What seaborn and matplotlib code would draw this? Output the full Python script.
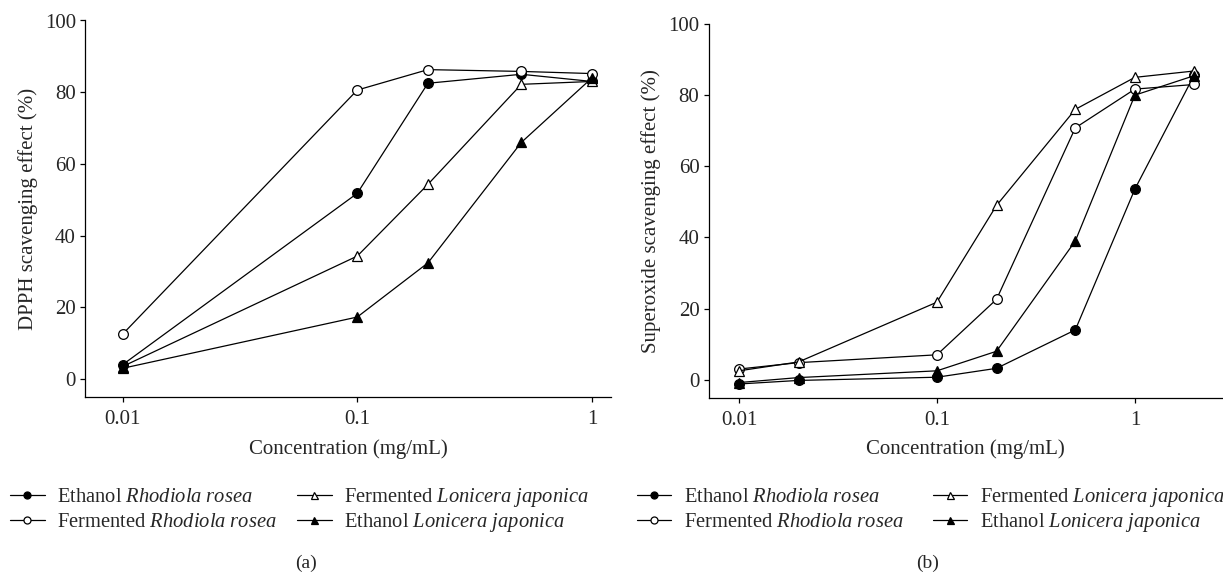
import numpy as np
import pandas as pd
import matplotlib
matplotlib.use("Agg")
import matplotlib.pyplot as plt
import seaborn as sns

# ---------------- data ----------------
conc_a = [0.01, 0.1, 0.2, 0.5, 1]
eth_rr_a = [4.0, 51.8, 82.5, 85.0, 83.0]
fer_rr_a = [12.5, 80.6, 86.3, 85.8, 85.2]
fer_lj_a = [3.5, 34.3, 54.3, 82.2, 83.0]
eth_lj_a = [3.0, 17.3, 32.4, 66.0, 84.0]

conc_b = [0.01, 0.02, 0.1, 0.2, 0.5, 1, 2]
eth_rr_b = [-1.2, -0.2, 0.7, 3.2, 14.0, 53.6, 85.8]
fer_rr_b = [3.0, 4.8, 7.0, 22.6, 70.8, 81.7, 83.0]
fer_lj_b = [2.5, 5.0, 21.8, 49.0, 76.0, 85.0, 86.8]
eth_lj_b = [-0.8, 0.6, 2.5, 8.0, 39.0, 80.0, 85.5]

x_ticks = [0.01, 0.1, 1]
x_ticklabels = ["0.01", "0.1", "1"]
y_ticks = [0, 20, 40, 60, 80, 100]

labels = {
    "eth_rr": r"Ethanol $\mathit{Rhodiola\ rosea}$",
    "fer_rr": r"Fermented $\mathit{Rhodiola\ rosea}$",
    "fer_lj": r"Fermented $\mathit{Lonicera\ japonica}$",
    "eth_lj": r"Ethanol $\mathit{Lonicera\ japonica}$",
}
styles = {
    "eth_rr": dict(marker="o", markerfacecolor="black"),
    "fer_rr": dict(marker="o", markerfacecolor="white"),
    "fer_lj": dict(marker="^", markerfacecolor="white"),
    "eth_lj": dict(marker="^", markerfacecolor="black"),
}

# ---------------- style ----------------
sns.set_style("ticks")
FS = 15
LFS = 14.8
plt.rcParams["font.family"] = ["Liberation Serif", "DejaVu Serif"]
plt.rcParams["mathtext.fontset"] = "custom"
plt.rcParams["mathtext.rm"] = "Liberation Serif"
plt.rcParams["mathtext.it"] = "Liberation Serif:italic"
plt.rcParams["font.size"] = FS

fig = plt.figure(figsize=(12.23, 5.74), dpi=100)
W, H = 1223, 574

def box(l, t, r, b):
    return [l / W, 1 - b / H, (r - l) / W, (b - t) / H]

ax_a = fig.add_axes(box(85, 20.5, 611, 397))
ax_b = fig.add_axes(box(708.5, 24, 1222, 397.5))

def draw(ax, conc, series, xlim, ylabel):
    for key in ["eth_rr", "fer_rr", "fer_lj", "eth_lj"]:
        sns.lineplot(x=conc, y=series[key], ax=ax, color="black",
                     linewidth=0.9, markersize=7.0, markeredgecolor="black",
                     markeredgewidth=0.9, label=labels[key], **styles[key])
    if ax.get_legend() is not None:
        ax.get_legend().remove()
    ax.set_xscale("log")
    ax.set_xlim(*xlim)
    ax.set_ylim(-5, 100)
    ax.set_xticks(x_ticks)
    ax.set_xticklabels(x_ticklabels)
    ax.xaxis.set_minor_locator(matplotlib.ticker.NullLocator())
    ax.set_yticks(y_ticks)
    ax.set_yticklabels([str(v) for v in y_ticks])
    ax.set_xlabel("Concentration (mg/mL)", fontsize=FS, labelpad=7)
    ax.set_ylabel(ylabel, fontsize=FS, labelpad=5)
    ax.tick_params(axis="both", direction="out", length=3.5, width=0.9,
                   labelsize=FS, color="black")
    ax.tick_params(axis="x", pad=6)
    ax.tick_params(axis="y", pad=3)
    for s in ["top", "right"]:
        ax.spines[s].set_visible(False)
    for s in ["left", "bottom"]:
        ax.spines[s].set_linewidth(0.9)
        ax.spines[s].set_color("black")
    ax.set_facecolor("white")

draw(ax_a, conc_a, {"eth_rr": eth_rr_a, "fer_rr": fer_rr_a,
                    "fer_lj": fer_lj_a, "eth_lj": eth_lj_a},
     (10 ** -2.16, 10 ** 0.081), "DPPH scavenging effect (%)")
draw(ax_b, conc_b, {"eth_rr": eth_rr_b, "fer_rr": fer_rr_b,
                    "fer_lj": fer_lj_b, "eth_lj": eth_lj_b},
     (10 ** -2.154, 10 ** 0.44), "Superoxide scavenging effect (%)")

def add_legends(ax, x1, x2):
    h, l = ax.get_legend_handles_labels()
    d = dict(zip(l, h))
    cols = [[labels["eth_rr"], labels["fer_rr"]],
            [labels["fer_lj"], labels["eth_lj"]]]
    # column 1 labels have no descenders -> slightly different offsets
    for xpos, col, ytop, spacing in zip([x1, x2], cols, [488, 486], [0.27, 0.12]):
        fig.legend([d[c] for c in col], col, loc="upper left",
                   bbox_to_anchor=(xpos / W, 1 - ytop / H),
                   frameon=False, borderpad=0, borderaxespad=0,
                   handlelength=1.7, handletextpad=0.6,
                   labelspacing=spacing, markerscale=0.72, fontsize=LFS)

add_legends(ax_a, 10, 297)
add_legends(ax_b, 636.5, 932.5)

fig.text(306 / W, 1 - 563 / H, "(a)", ha="center", va="center", fontsize=FS - 1)
fig.text(928 / W, 1 - 563 / H, "(b)", ha="center", va="center", fontsize=FS - 1)

fig.savefig("out.png", dpi=100, facecolor="white")
